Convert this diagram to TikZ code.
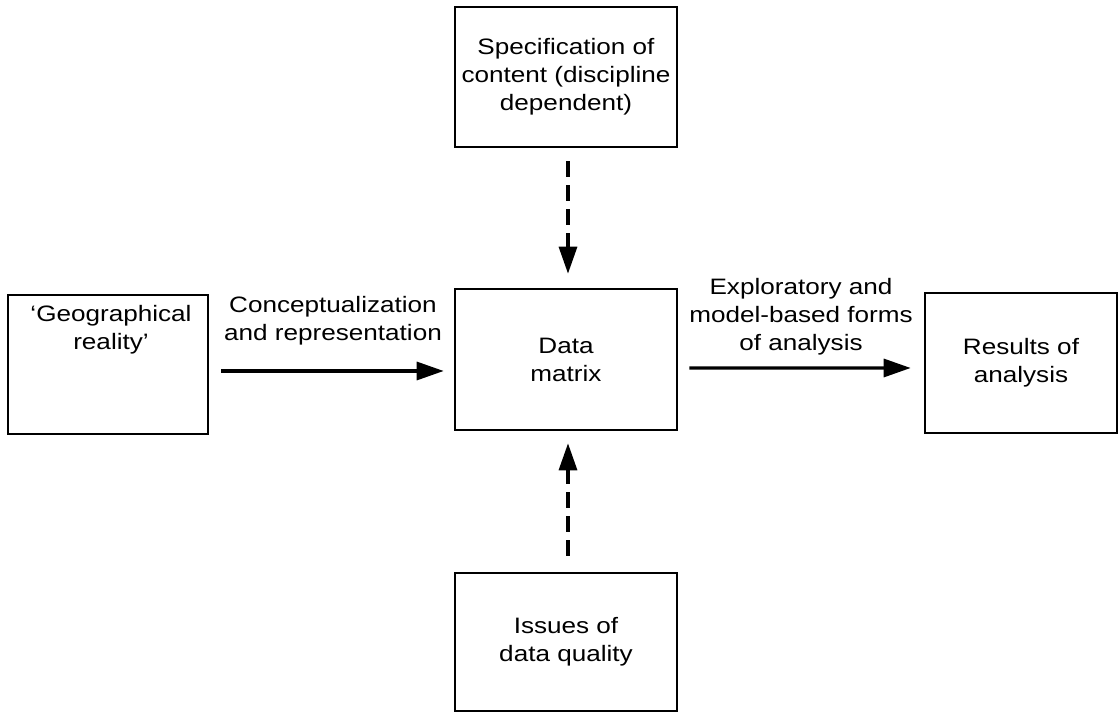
\documentclass[tikz,border=0pt]{standalone}
\usepackage{fontspec}
\setmainfont{Liberation Sans}[FakeStretch=1.17]
\usetikzlibrary{arrows.meta,calc}
\tikzset{
  boxy/.style   ={rectangle, draw=black, line width=1.5pt, align=center,
                  font=\fontsize{12.7}{15.9}\selectfont, inner sep=0pt},
  txt/.style    ={align=center, font=\fontsize{12.7}{15.9}\selectfont, inner sep=0pt},
  flow/.style   ={-{Triangle[length=5.4mm,width=3.6mm]}, line width=1.8pt, draw=black},
  dashflow/.style={flow, dash pattern=on 3.2mm off 1.6mm}
}
\begin{document}
\begin{tikzpicture}[x=0.02cm,y=-0.02cm]
\useasboundingbox (0,0) rectangle (1120,715);

%% ---- Boxes -----------------------------------------------------------
\node[boxy, minimum width=4.44cm, minimum height=2.8cm] (spec) at (566,77)
{Specification of\\content (discipline\\dependent)};
\node[boxy, minimum width=4.44cm, minimum height=2.82cm] (matrix) at (566,359.5)
{Data\\matrix};
\node[boxy, minimum width=4.0cm, minimum height=2.78cm] (reality) at (108,364.5) {};
\node[txt] (realitytext) at (111,330) {`Geographical\\reality'};
\node[boxy, minimum width=3.84cm, minimum height=2.8cm] (results) at (1021,363)
{Results of\\analysis};
\node[boxy, minimum width=4.44cm, minimum height=2.76cm] (quality) at (566,642)
{Issues of\\data quality};

%% ---- Wiring ----------------------------------------------------------
\draw[flow] ($(reality.east)+(12,6.5)$) -- ($(matrix.west)+(-10,11.5)$);
\draw[flow] ($(matrix.east)+(11,8.5)$) -- ($(results.west)+(-13,5)$);
\draw[dashflow] ($(spec.south)+(2,13)$) -- ($(matrix.north)+(2,-14)$);
\draw[dashflow] ($(quality.north)+(2,-16)$) -- ($(matrix.south)+(2,12)$);

\node[txt] (conclbl) at (333,321) {Conceptualization\\and representation};
\node[txt] (explbl) at (801,317) {Exploratory and\\model-based forms\\of analysis};
\end{tikzpicture}
\end{document}
